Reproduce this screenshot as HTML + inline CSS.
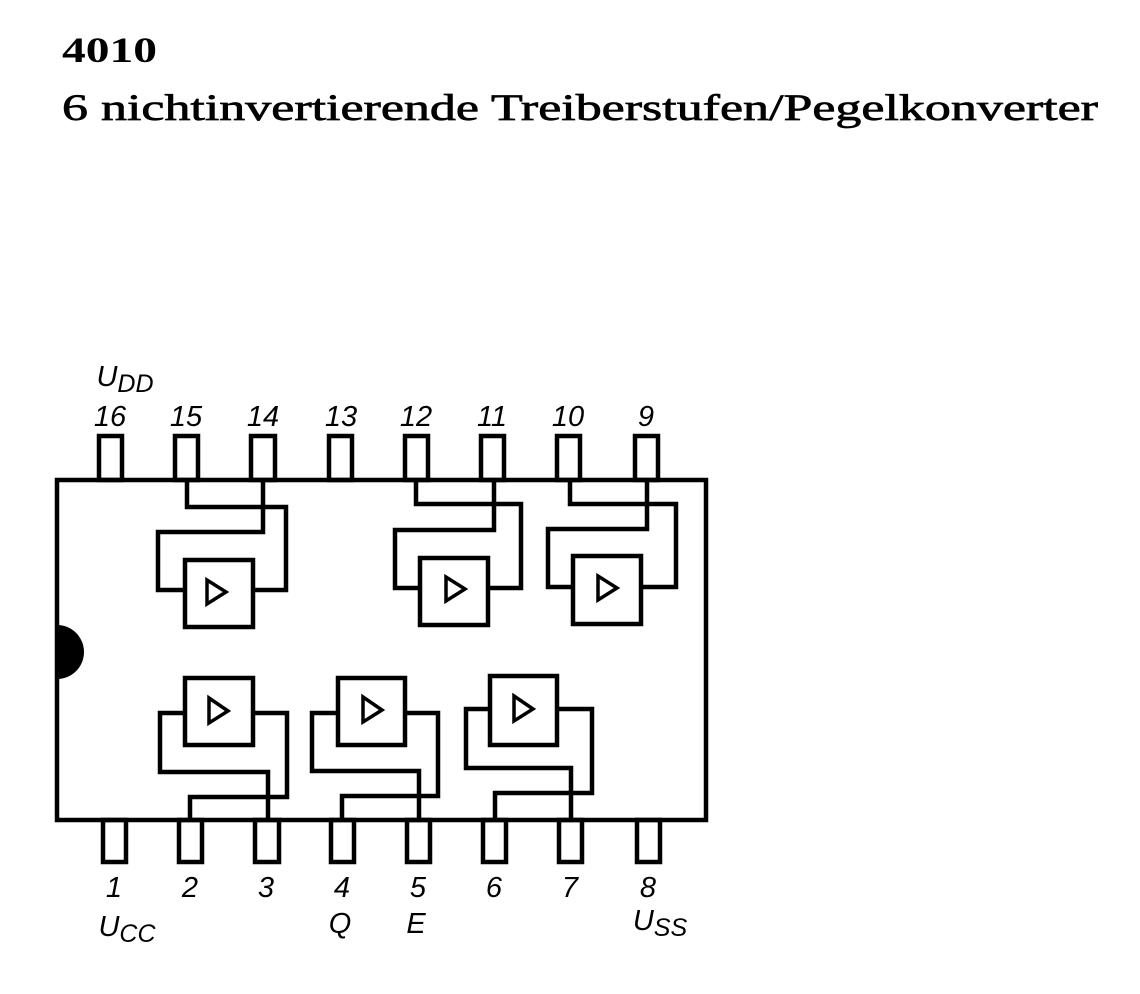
<!DOCTYPE html>
<html><head><meta charset="utf-8"><style>
html,body{margin:0;padding:0;background:#fff;}
svg{display:block}
.t{font-family:"Liberation Serif",serif;fill:#000}
.n{font-family:"Liberation Sans",sans-serif;font-style:italic;fill:#000;font-size:29px;text-anchor:middle}
</style></head><body>
<svg width="1140" height="994" viewBox="0 0 1140 994" xmlns="http://www.w3.org/2000/svg">
<text class="t" x="62" y="62" font-size="36" font-weight="bold" textLength="95" lengthAdjust="spacingAndGlyphs">4010</text>
<text class="t" x="62" y="120" font-size="37" stroke="#000" stroke-width="0.7" textLength="1036" lengthAdjust="spacingAndGlyphs">6 nichtinvertierende Treiberstufen/Pegelkonverter</text>
<g fill="none" stroke="#000" stroke-width="4.5" stroke-linejoin="miter">
<rect x="57" y="480" width="649" height="340"/>
<rect x="99" y="436" width="23" height="44"/>
<rect x="175" y="436" width="23" height="44"/>
<rect x="251" y="436" width="24" height="44"/>
<rect x="329" y="436" width="23" height="44"/>
<rect x="405" y="436" width="23" height="44"/>
<rect x="481" y="436" width="23" height="44"/>
<rect x="557" y="436" width="23" height="44"/>
<rect x="635" y="436" width="23" height="44"/>
<rect x="103" y="820" width="23" height="42"/>
<rect x="179" y="820" width="23" height="42"/>
<rect x="255" y="820" width="24" height="42"/>
<rect x="331" y="820" width="23" height="42"/>
<rect x="407" y="820" width="23" height="42"/>
<rect x="483" y="820" width="23" height="42"/>
<rect x="559" y="820" width="23" height="42"/>
<rect x="637" y="820" width="23" height="42"/>
<rect x="185" y="560" width="68" height="67"/>
<polyline points="185,590 158,590 158,532 263,532 263,480"/>
<polyline points="253,590 286,590 286,507 187,507 187,480"/>
<rect x="420" y="558" width="68" height="67"/>
<polyline points="420,588 395,588 395,530 494,530 494,480"/>
<polyline points="488,588 521,588 521,504 416,504 416,480"/>
<rect x="573" y="556" width="68" height="68"/>
<polyline points="573,587 548,587 548,529 647,529 647,480"/>
<polyline points="641,587 676,587 676,504 570,504 570,480"/>
<rect x="185" y="678" width="68" height="67"/>
<polyline points="185,713 160,713 160,772 268,772 268,820"/>
<polyline points="253,713 287,713 287,797 190,797 190,820"/>
<rect x="338" y="678" width="67" height="67"/>
<polyline points="338,713 312,713 312,771 419,771 419,820"/>
<polyline points="405,713 438,713 438,796 342,796 342,820"/>
<rect x="490" y="676" width="67" height="69"/>
<polyline points="490,709 466,709 466,768 571,768 571,820"/>
<polyline points="557,709 592,709 592,793 495,793 495,820"/>
</g>
<g fill="none" stroke="#000" stroke-width="3.5">
<polygon points="207,580 207,604 226,592"/>
<polygon points="446,577 446,601 465,589"/>
<polygon points="598,576 598,600 617,588"/>
<polygon points="209,698 209,723 228,711"/>
<polygon points="363,697 363,722 382,710"/>
<polygon points="514,696 514,721 533,709"/>
</g>
<path d="M57,625 A27,27 0 0 1 57,679 Z" fill="#000"/>
<text class="n" x="110" y="426">16</text>
<text class="n" x="186" y="426">15</text>
<text class="n" x="263" y="426">14</text>
<text class="n" x="341" y="426">13</text>
<text class="n" x="416" y="426">12</text>
<text class="n" x="492" y="426">11</text>
<text class="n" x="568" y="426">10</text>
<text class="n" x="646" y="426">9</text>
<text class="n" x="114" y="897">1</text>
<text class="n" x="190" y="897">2</text>
<text class="n" x="266" y="897">3</text>
<text class="n" x="342" y="897">4</text>
<text class="n" x="418" y="897">5</text>
<text class="n" x="494" y="897">6</text>
<text class="n" x="570" y="897">7</text>
<text class="n" x="648" y="897">8</text>
<text class="n" x="125" y="386" font-size="33">U<tspan font-size="25" dy="6">DD</tspan></text>
<text class="n" x="127" y="936" font-size="33">U<tspan font-size="25" dy="6">CC</tspan></text>
<text class="n" x="340" y="933" font-size="30">Q</text>
<text class="n" x="416" y="933" font-size="30">E</text>
<text class="n" x="660" y="930" font-size="33">U<tspan font-size="25" dy="6">SS</tspan></text>
</svg>
</body></html>
